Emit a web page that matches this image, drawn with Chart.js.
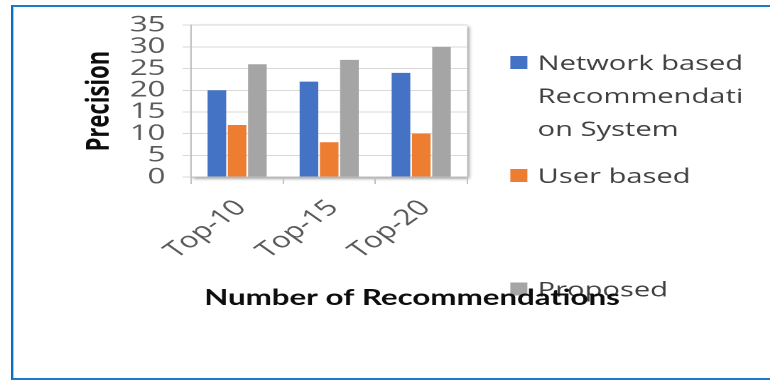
<!DOCTYPE html>
<html><head><meta charset="utf-8">
<script src="https://cdn.jsdelivr.net/npm/chart.js@4.4.1/dist/chart.umd.min.js"></script>
<style>
html,body{margin:0;padding:0;background:#fff;width:770px;height:380px;overflow:hidden;}
#wrap{position:absolute;left:0;top:0;width:542px;height:380px;transform:scaleX(1.4207);transform-origin:0 0;}
#frame{position:absolute;left:11px;top:5px;width:800px;height:371px;border-left:2px solid #0b6fc1;border-top:2px solid #1a7bcb;border-bottom:2px solid #1a7bcb;}
#frameIn{position:absolute;left:0;top:0;width:1px;height:100%;background:#a6cbee;}
</style></head>
<body>
<div id="wrap"><canvas id="c" width="542" height="380" style="width:542px;height:380px"></canvas></div>
<div id="frame"><div id="frameIn"></div></div>
<script>
const categories = ["Top-10", "Top-15", "Top-20"];
const networkBased = [20, 22, 24];
const userBased = [12, 8, 10];
const proposed = [26, 27, 30];
const seriesNames = ["Network based Recommendation System", "User based", "Proposed"];
const legendLines = [["Network based", "Recommendati", "on System"], ["User based"], ["Proposed"]];
const seriesColors = ["#4472C4", "#ED7D31", "#A5A5A5"];
const yTickValues = [0, 5, 10, 15, 20, 25, 30, 35];
const yAxisTitle = "Precision";
const xAxisTitle = "Number of Recommendations";

const SX = 1.4207;
const seriesValues = [networkBased, userBased, proposed];

const decor = {
  id: 'decor',
  beforeDraw(chart) {
    const {ctx, chartArea: a} = chart;
    ctx.save();
    ctx.shadowColor = 'rgba(0,0,0,0.45)';
    ctx.shadowBlur = 6;
    ctx.shadowOffsetX = 2.5;
    ctx.shadowOffsetY = 3;
    ctx.fillStyle = '#fff';
    ctx.fillRect(a.left, a.top, a.right - a.left, a.bottom - a.top);
    ctx.restore();
  },
  afterDraw(chart) {
    const ctx = chart.ctx;
    ctx.save();
    // legend
    const boxX = 359.2, textX = 378.4, lineH = 33;
    const firstBase = [70, 183, 296.5];
    chart.data.datasets.forEach((ds, i) => {
      ctx.fillStyle = ds.backgroundColor;
      ctx.fillRect(boxX, firstBase[i] - 14, 12, 13);
      ctx.fillStyle = '#404040';
      ctx.font = '20.5px "Open Sans"';
      ctx.textBaseline = 'alphabetic';
      ctx.textAlign = 'left';
      legendLines[i].forEach((ln, k) => ctx.fillText(ln, textX, firstBase[i] + k * lineH));
    });
    // x axis title
    ctx.fillStyle = '#0d0d0d';
    ctx.font = 'bold 22px Lato';
    ctx.textAlign = 'center';
    ctx.fillText(xAxisTitle, 290, 305);
    ctx.restore();
  }
};

new Chart(document.getElementById('c'), {
  type: 'bar',
  data: {
    labels: categories,
    datasets: seriesNames.map((n, i) => ({
      label: n,
      data: seriesValues[i],
      backgroundColor: seriesColors[i],
      borderWidth: 0,
      categoryPercentage: 0.66,
      barPercentage: 0.92
    }))
  },
  options: {
    responsive: false,
    animation: false,
    devicePixelRatio: 2,
    layout: {padding: {left: 10, top: 21, right: 213.1, bottom: 0}},
    plugins: {legend: {display: false}, tooltip: {enabled: false}},
    scales: {
      x: {
        grid: {display: true, drawOnChartArea: false, drawTicks: true, tickLength: 7, color: '#bfbfbf', offset: true},
        border: {display: true, color: '#bfbfbf', width: 1},
        ticks: {minRotation: 45, maxRotation: 45, autoSkip: false, padding: 11, labelOffset: 3, color: '#595959', font: {family: 'Open Sans', size: 22}},
        afterFit(s) { s.height = 380 - 177; }
      },
      y: {
        min: 0, max: 35,
        afterBuildTicks(s) { s.ticks = yTickValues.map(v => ({value: v})); },
        grid: {color: '#d9d9d9', tickLength: 6, drawTicks: true},
        border: {display: true, color: '#bfbfbf', width: 1},
        ticks: {autoSkip: false, padding: 12, color: '#595959', font: {family: 'Open Sans', size: 22}},
        title: {display: true, text: yAxisTitle, color: '#0d0d0d', font: {family: 'Open Sans', weight: 'bold', size: 22}, padding: {top: 47.1, bottom: 0}},
        afterFit(s) { s.width = 134.5 - 10; }
      }
    }
  },
  plugins: [decor]
});
</script>
</body></html>
